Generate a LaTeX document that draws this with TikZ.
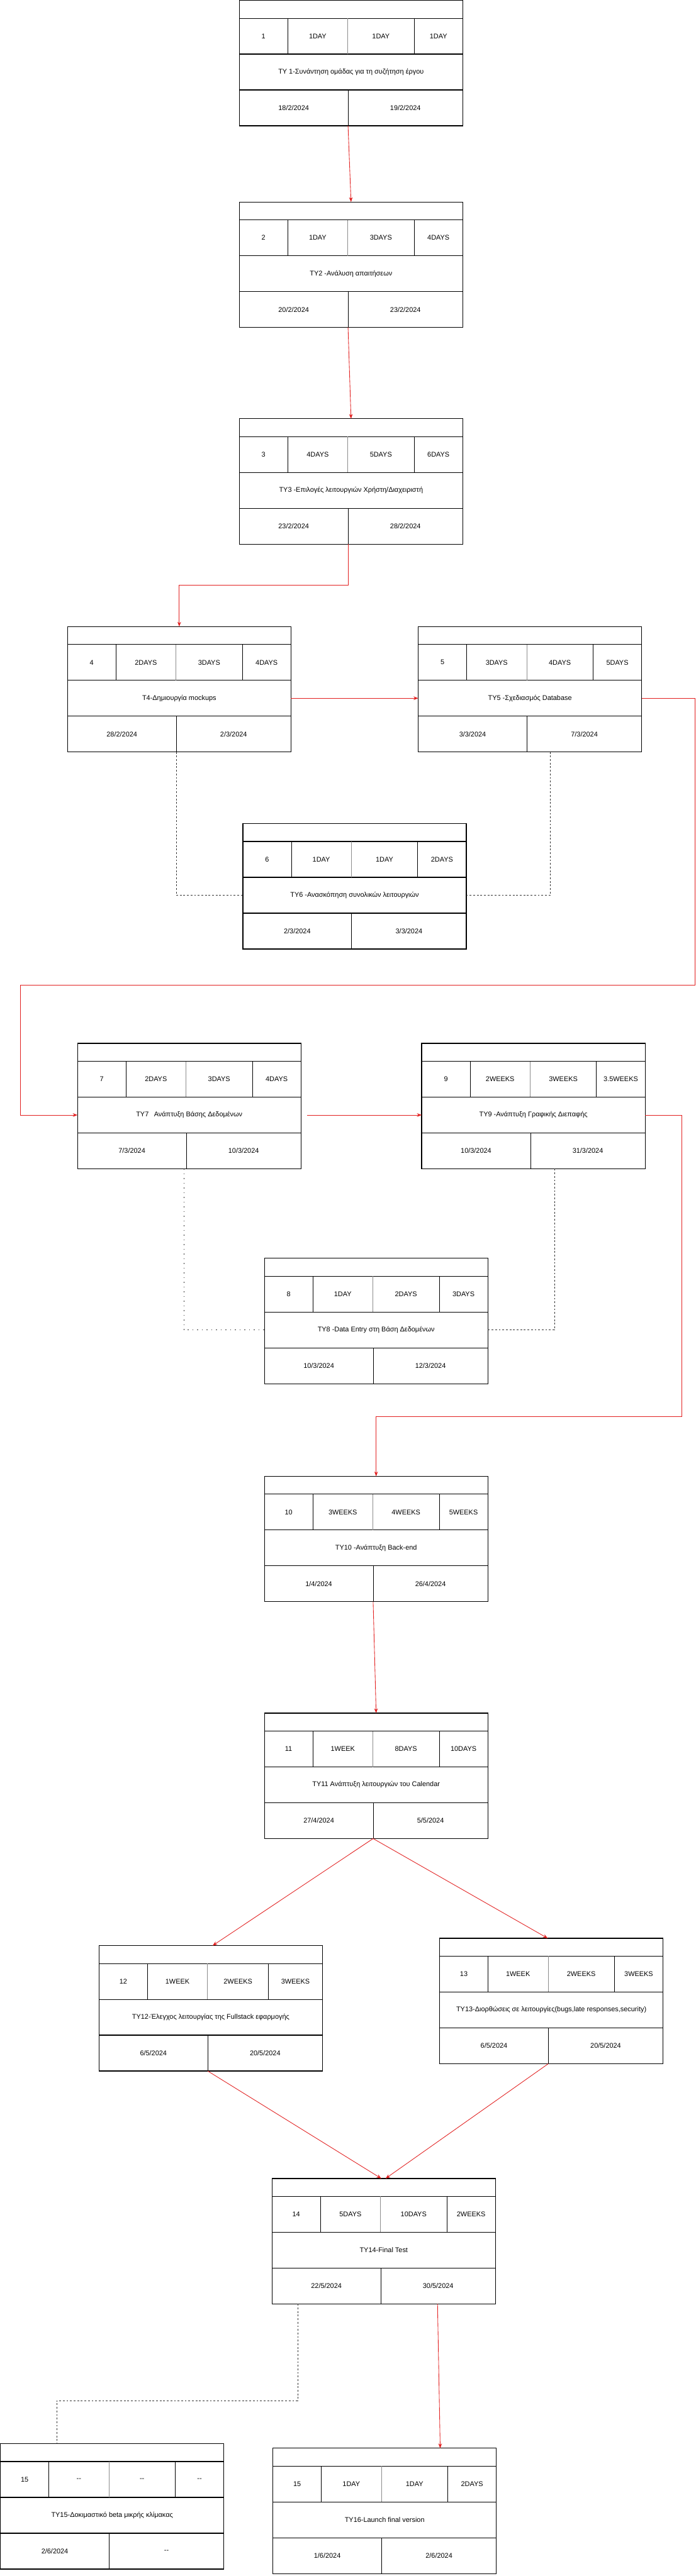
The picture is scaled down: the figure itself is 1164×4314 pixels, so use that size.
\documentclass[tikz,border=0pt]{standalone}
\usepackage{fontspec}
\setmainfont{Liberation Sans}
\usetikzlibrary{arrows.meta}
\definecolor{arrowred}{RGB}{226,32,32}
\definecolor{graydiv}{RGB}{140,140,140}
\def\pcolC{111}
\def\pcolD{81.5}
\newcommand\pertbox[9]{%
  \node[boxframe,anchor=north west] (#1) at #2 {};
  \node[cellrow,minimum width=374,minimum height=30,anchor=north west] (#1-head) at (#1.north west) {};
  \node[cellrow,minimum width=81,anchor=north west] (#1-num) at (#1-head.south west) {#3};
  \node[cellrow,minimum width=100.5,anchor=north west] (#1-d1) at (#1-num.north east) {#4};
  \node[cellrow,minimum width=\pcolC,anchor=north west] (#1-d2) at (#1-d1.north east) {#5};
  \node[cellrow,minimum width=\pcolD,anchor=north west] (#1-d3) at (#1-d2.north east) {#6};
  \node[cellrow,minimum width=374,anchor=north west] (#1-title) at (#1-num.south west) {#7};
  \node[cellrow,minimum width=182,anchor=north west] (#1-s) at (#1-title.south west) {#8};
  \node[cellrow,minimum width=192,anchor=north west] (#1-e) at (#1-s.north east) {#9};
  \draw[frameline] (#1.north west) rectangle (#1.south east);
  \draw[frameline] (#1-head.south west) -- (#1-head.south east);
  \draw[frameline] (#1-title.north west) -- (#1-title.north east);
  \draw[frameline] (#1-title.south west) -- (#1-title.south east);
  \draw[divline] (#1-num.north east) -- (#1-num.south east);
  \draw[divline,draw=graydiv] (#1-d1.north east) -- (#1-d1.south east);
  \draw[divline] (#1-d2.north east) -- (#1-d2.south east);
  \draw[divline] (#1-s.north east) -- (#1-s.south east);
}
\begin{document}
\begin{tikzpicture}[x=1pt,y=-1pt,
  font=\fontsize{11.5}{13.5}\selectfont,
  boxframe/.style={minimum width=374,minimum height=210,inner sep=0pt,outer sep=0pt},
  cellrow/.style={minimum height=60,inner sep=0pt,outer sep=0pt,align=center},
  frameline/.style={draw=black,line width=1.3pt},
  divline/.style={draw=black,line width=0.7pt},
  redarrow/.style={draw=arrowred,line width=0.9pt,-{Stealth[length=8pt,width=6pt]}},
  depline/.style={draw=black!80,line width=0.8pt,dash pattern=on 3pt off 3pt},
  dotline/.style={draw=black!80,line width=1.4pt,dash pattern=on 1.4pt off 6.5pt}]
\useasboundingbox[fill=white] (0,0) rectangle (1164,4314);

\pertbox{t1}{(400.5,0.7)}{1}{1DAY}{1DAY}{1DAY}{TY 1-Συνάντηση ομάδας για τη συζήτηση έργου}{18/2/2024}{19/2/2024}
\pertbox{t2}{(400.5,338.3)}{2}{1DAY}{3DAYS}{4DAYS}{TY2 -Ανάλυση απαιτήσεων}{20/2/2024}{23/2/2024}
\pertbox{t3}{(400.5,701.3)}{3}{4DAYS}{5DAYS}{6DAYS}{TY3 -Επιλογές λειτουργιών Χρήστη/Διαχειριστή}{23/2/2024}{28/2/2024}
\pertbox{t4}{(113,1049.3)}{4}{2DAYS}{3DAYS}{4DAYS}{T4-Δημιουργία mockups}{28/2/2024}{2/3/2024}
\pertbox{t5}{(700,1049.3)}{5}{3DAYS}{4DAYS}{5DAYS}{TY5 -Σχεδιασμός Database}{3/3/2024}{7/3/2024}
\pertbox{t6}{(406.5,1379.3)}{6}{1DAY}{1DAY}{2DAYS}{TY6 -Ανασκόπηση συνολικών λειτουργιών}{2/3/2024}{3/3/2024}
\pertbox{t7}{(129.75,1747.3)}{7}{2DAYS}{3DAYS}{4DAYS}{TY7\hspace{9pt}Ανάπτυξη Βάσης Δεδομένων}{7/3/2024}{10/3/2024}
\pertbox{t9}{(705.75,1747.3)}{9}{2WEEKS}{3WEEKS}{3.5WEEKS}{TY9 -Ανάπτυξη Γραφικής Διεπαφής}{10/3/2024}{31/3/2024}
\pertbox{t8}{(442.5,2107.3)}{8}{1DAY}{2DAYS}{3DAYS}{TY8 -Data Entry στη Βάση Δεδομένων}{10/3/2024}{12/3/2024}
\pertbox{t10}{(442.5,2472.3)}{10}{3WEEKS}{4WEEKS}{5WEEKS}{TY10 -Ανάπτυξη Back-end}{1/4/2024}{26/4/2024}
\pertbox{t11}{(442.5,2869)}{11}{1WEEK}{8DAYS}{10DAYS}{TY11 Ανάπτυξη λειτουργιών του Calendar}{27/4/2024}{5/5/2024}
\def\pcolC{102}\def\pcolD{90.5}
\pertbox{t12}{(165.75,3258.3)}{12}{1WEEK}{2WEEKS}{3WEEKS}{TY12-Έλεγχος λειτουργίας της Fullstack εφαρμογής}{6/5/2024}{20/5/2024}
\def\pcolC{111}\def\pcolD{81.5}
\pertbox{t13}{(735.75,3246)}{13}{1WEEK}{2WEEKS}{3WEEKS}{TY13-Διορθώσεις σε λειτουργίες(bugs,late responses,security)}{6/5/2024}{20/5/2024}
\pertbox{t14}{(455.25,3648.3)}{14}{5DAYS}{10DAYS}{2WEEKS}{TY14-Final Test}{22/5/2024}{30/5/2024}
\pertbox{t15}{(0.7,4092.3)}{15}{{-}{-}}{{-}{-}}{{-}{-}}{TY15-Δοκιμαστικό beta μικρής κλίμακας}{2/6/2024}{{-}{-}}
\pertbox{t16}{(456.75,4100)}{15}{1DAY}{1DAY}{2DAYS}{TY16-Launch final version}{1/6/2024}{2/6/2024}

% free bend points
\coordinate (k1) at (1163,1650.3);
\coordinate (k2) at (33.75,1650.3);
\coordinate (k3) at (1140.75,2372.7);

% red precedence arrows
\draw[redarrow] (t1-s.south east) -- (t2.north);
\draw[redarrow] (t2-s.south east) -- (t3.north);
\draw[redarrow] (t3-s.south east) -- ++(0,69) -| (t4.north);
\draw[redarrow] (t4-title.east) -- (t5-title.west);
\draw[redarrow] (t5-title.east) -| (k1) -- (k2) |- (t7-title.west);
\draw[redarrow] ([xshift=10pt]t7-title.east) -- (t9-title.west);
\draw[redarrow] (t9-title.east) -| (k3) -| (t10.north);
\draw[redarrow] (t10-s.south east) -- (t11.north);
\draw[redarrow] (t11-s.south east) -- ([xshift=3pt]t12.north);
\draw[redarrow] (t11-s.south east) -- ([xshift=-6pt]t13.north);
\draw[redarrow] (t12-s.south east) -- ([xshift=-4pt]t14.north);
\draw[redarrow] (t13-s.south east) -- ([xshift=3pt]t14.north);
\draw[redarrow] ([xshift=90pt]t14.south) -- ([xshift=93pt]t16.north);

% dashed dependency lines
\draw[depline] (t4-s.south east) |- (t6-title.west);
\draw[depline] ([xshift=34pt]t5.south) |- (t6-title.east);
\draw[dotline] ([xshift=-4pt]t7-s.south east) |- (t8-title.west);
\draw[depline] ([xshift=35pt]t9.south) |- (t8-title.east);
\draw[depline] ([xshift=-144pt]t14.south) -- ++(0,162) -| ([xshift=-93pt]t15.north);
\end{tikzpicture}
\end{document}
